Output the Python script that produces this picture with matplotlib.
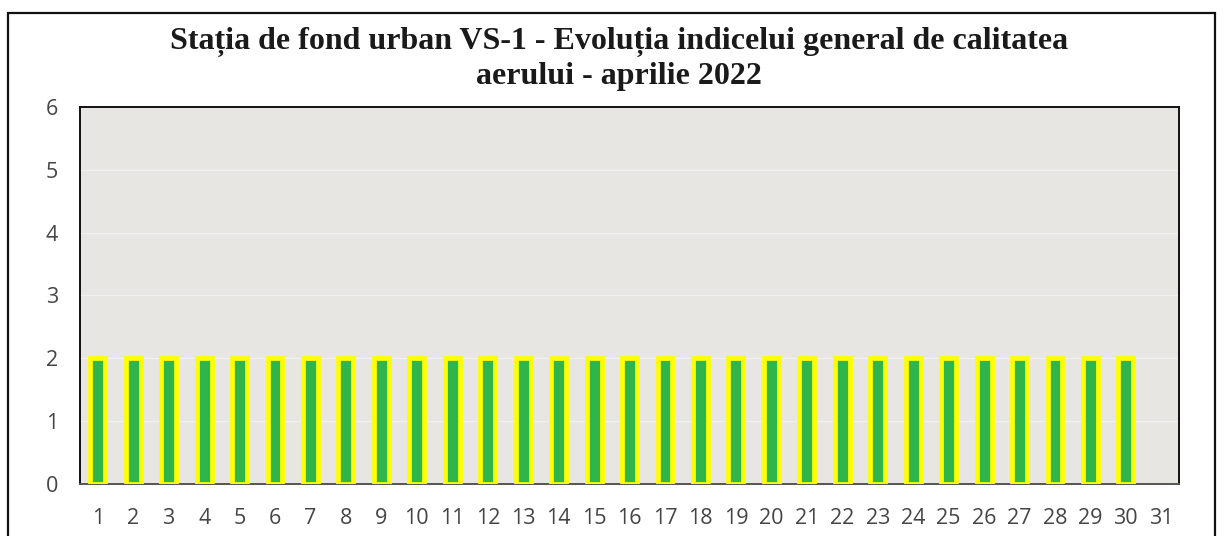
import numpy as np
import matplotlib
matplotlib.use("Agg")
import matplotlib.pyplot as plt
from matplotlib.patches import Rectangle

# zilele lunii (axa x) si indicele general pe zi
zile = [str(d) for d in range(1, 32)]
indice = [2, 2, 2, 2, 2, 2, 2, 2, 2, 2,
          2, 2, 2, 2, 2, 2, 2, 2, 2, 2,
          2, 2, 2, 2, 2, 2, 2, 2, 2, 2]
y_ticks = [0, 1, 2, 3, 4, 5, 6]
titlu = "Stația de fond urban VS-1 - Evoluția indicelui general de calitatea\naerului - aprilie 2022"

fig = plt.figure(figsize=(12.26, 5.36), dpi=100)
ax = fig.add_axes([0.0653, 0.097, 0.8964, 0.7034])

x = np.arange(1, len(indice) + 1)
ax.bar(x, indice, width=0.42, color="#2fb54a", edgecolor="#ffff00",
       linewidth=3.4, zorder=3)

ax.set_facecolor("#e8e6e3")
ax.set_xlim(0.5, 31.5)
ax.set_ylim(0, 6)
ax.set_xticks(range(1, 32))
ax.set_xticklabels(zile)
ax.set_yticks(y_ticks)
ax.grid(axis="y", color="#f1f1f1", linewidth=0.8, zorder=0)
ax.set_axisbelow(True)

for lab in ax.get_xticklabels() + ax.get_yticklabels():
    lab.set_family("Open Sans")
    lab.set_fontsize(15.5)
    lab.set_color("#454545")
ax.tick_params(axis="both", length=0)
ax.tick_params(axis="x", pad=17)
ax.tick_params(axis="y", pad=16)

for s in ["left", "top", "right"]:
    ax.spines[s].set_color("#111111")
    ax.spines[s].set_linewidth(1.4)
ax.spines["bottom"].set_color("#555555")
ax.spines["bottom"].set_linewidth(1.4)

# va=baseline -> linia de baza a ultimului rand
fig.text(0.505, 0.8433, titlu, ha="center", va="baseline", fontsize=23,
         fontweight="bold", family="Liberation Serif", color="#1a1a1a",
         linespacing=1.22, multialignment="center")

# chenarul exterior al graficului
fig.patches.append(Rectangle((0.0065, -0.05), 0.9845, 1.0257, fill=False,
                             edgecolor="#111111", linewidth=1.6,
                             transform=fig.transFigure, figure=fig))

fig.savefig("out.png", dpi=100)
